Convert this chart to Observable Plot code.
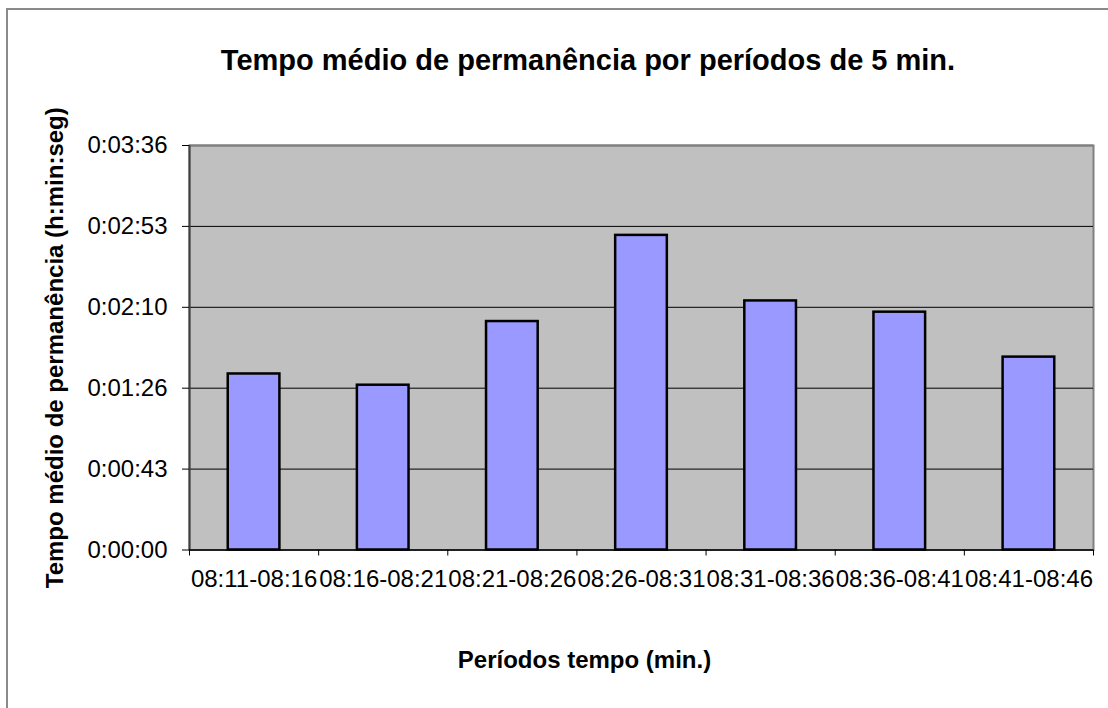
<!DOCTYPE html>
<html>
<head>
<meta charset="utf-8">
<script src="https://cdn.jsdelivr.net/npm/d3@7"></script>
<script src="https://cdn.jsdelivr.net/npm/@observablehq/plot@0.6"></script>
<style>
  html, body { margin: 0; padding: 0; background: #fff; }
  body { width: 1108px; height: 708px; overflow: hidden; position: relative; font-family: "Liberation Sans", Arial, sans-serif; }
  #border { position: absolute; left: 6px; top: 8px; width: 1200px; height: 800px; border-left: 2px solid #8a8a8a; border-top: 2px solid #8a8a8a; box-sizing: border-box; }
  #titlebox { position: relative; height: 100px; }
  #title { position: absolute; left: 588px; top: 0; transform: translateX(-50%); white-space: nowrap;
           font-weight: bold; font-size: 29px; line-height: 29px; padding-top: 45.5px; color: #000; }
  #chart svg { display: block; position: relative; }
</style>
</head>
<body>
<div id="border"></div>
<div id="titlebox"><div id="title">Tempo médio de permanência por períodos de 5 min.</div></div>
<div id="chart"></div>
<script>
// Categories (periods) and mean stay time in seconds
const periods = ["08:11-08:16", "08:16-08:21", "08:21-08:26", "08:26-08:31", "08:31-08:36", "08:36-08:41", "08:41-08:46"];
const meanSeconds = [94, 88, 122, 168, 133, 127, 103];
// Y axis ticks (seconds) and their labels
const yTicks = [0, 43.2, 86.4, 129.6, 172.8, 216];
const yTickLabels = ["0:00:00", "0:00:43", "0:01:26", "0:02:10", "0:02:53", "0:03:36"];
const yTitle = "Tempo médio de permanência (h:min:seg)";
const xTitle = "Períodos tempo (min.)";

const data = periods.map((p, i) => ({i, period: p, value: meanSeconds[i]}));
const boundaries = d3.range(0, periods.length + 1);
const centers = periods.map((p, i) => i + 0.5);

const chart = Plot.plot({
  width: 1108,
  height: 608,
  marginTop: 45,
  marginLeft: 189,
  marginRight: 15,
  marginBottom: 158.5,
  style: {fontFamily: "Liberation Sans, Arial, sans-serif", fontSize: "24px", background: "transparent", color: "#000", overflow: "visible"},
  x: {type: "linear", domain: [0, periods.length]},
  y: {domain: [0, 216]},
  marks: [
    Plot.frame({fill: "#C0C0C0", stroke: "#808080", strokeWidth: 2}),
    Plot.ruleY(yTicks.slice(1, -1), {stroke: "#000", strokeWidth: 1}),
    Plot.ruleY([216], {stroke: "#808080", strokeWidth: 2}),
    Plot.rectY(data, {x1: d => d.i + 0.3, x2: d => d.i + 0.7, y: "value", fill: "#9999FF", stroke: "#000", strokeWidth: 2.5}),
    Plot.ruleX([0], {stroke: "#404040", strokeWidth: 2}),
    Plot.ruleY([0], {stroke: "#000", strokeWidth: 1.5}),
    Plot.axisY({ticks: yTicks, tickSize: 7, tickPadding: 15, tickFormat: d => yTickLabels[yTicks.indexOf(d)], fontSize: 24, label: null, stroke: "#000"}),
    Plot.axisX({ticks: boundaries, tickSize: 6, tickFormat: () => "", label: null, stroke: "#000"}),
    Plot.axisX({ticks: centers, tickSize: 0, tickPadding: 20, tickFormat: d => periods[Math.round(d - 0.5)], fontSize: 24, label: null}),
    Plot.text([yTitle], {text: d => d, frameAnchor: "left", textAnchor: "middle", lineAnchor: "middle", rotate: -90, dx: -134, fontWeight: "bold", fontSize: 24, fill: "#000"}),
    Plot.text([xTitle], {text: d => d, frameAnchor: "bottom", textAnchor: "middle", lineAnchor: "middle", dx: -57, dy: 110.8, fontWeight: "bold", fontSize: 24, fill: "#000"})
  ]
});
document.getElementById("chart").appendChild(chart);
</script>
</body>
</html>
